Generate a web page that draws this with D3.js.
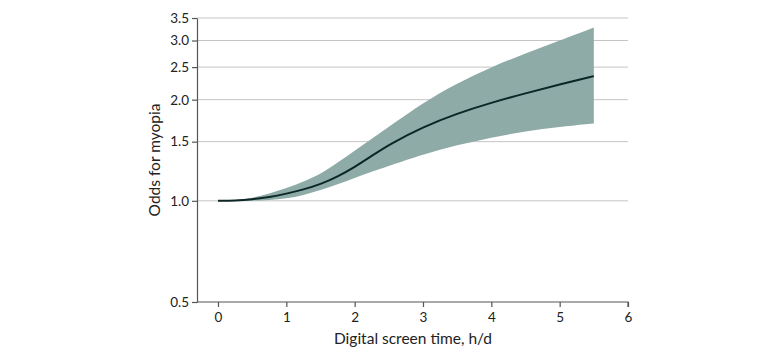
<!DOCTYPE html>
<html>
<head>
<meta charset="utf-8">
<script src="https://cdn.jsdelivr.net/npm/d3@7"></script>
<style>
  body { margin: 0; background: #fff; }
  svg { display: block; }
  text { font-family: Lato, "Open Sans", sans-serif; fill: #222; }
</style>
</head>
<body>
<svg id="chart" width="780" height="357"></svg>
<script>
// Data
const hours = [0, 0.25, 0.5, 0.75, 1.0, 1.25, 1.5, 1.75, 2.0, 2.25, 2.5, 3.0, 3.5, 4.0, 4.5, 5.0, 5.5];
const oddsMean  = [1.00, 1.002, 1.01, 1.025, 1.05, 1.08, 1.12, 1.18, 1.26, 1.36, 1.47, 1.66, 1.82, 1.96, 2.09, 2.22, 2.35];
const oddsUpper = [1.00, 1.004, 1.02, 1.05, 1.09, 1.14, 1.20, 1.30, 1.41, 1.53, 1.66, 1.96, 2.24, 2.50, 2.75, 3.00, 3.28];
const oddsLower = [1.00, 1.000, 1.00, 1.005, 1.015, 1.04, 1.075, 1.12, 1.17, 1.22, 1.27, 1.375, 1.465, 1.545, 1.61, 1.66, 1.70];
const xTicks = [0, 1, 2, 3, 4, 5, 6];
const yTicks = [0.5, 1.0, 1.5, 2.0, 2.5, 3.0, 3.5];

const svg = d3.select("#chart");
const mLeft = 197, mRight = 628, mTop = 18, mBottom = 302;

const x = d3.scaleLinear().domain([-0.307, 6]).range([mLeft, mRight]);
const y = d3.scaleLog().domain([0.5, 3.5]).range([mBottom, mTop]);

// gridlines
svg.append("g").selectAll("line").data(yTicks.filter(d => d > 0.5)).join("line")
  .attr("x1", mLeft).attr("x2", mRight)
  .attr("y1", d => y(d)).attr("y2", d => y(d))
  .attr("stroke", "#c4c4c4").attr("stroke-width", 1);

const pts = hours.map((h, i) => ({h, m: oddsMean[i], u: oddsUpper[i], l: oddsLower[i]}));

svg.append("path").datum(pts)
  .attr("d", d3.area().x(d => x(d.h)).y0(d => y(d.l)).y1(d => y(d.u)).curve(d3.curveBasis))
  .attr("fill", "#8eaba8");

svg.append("path").datum(pts)
  .attr("d", d3.line().x(d => x(d.h)).y(d => y(d.m)).curve(d3.curveBasis))
  .attr("fill", "none").attr("stroke", "#0c2626").attr("stroke-width", 2);

// axes
const xAxis = svg.append("g").attr("transform", `translate(0,${mBottom})`)
  .call(d3.axisBottom(x).tickValues(xTicks).tickFormat(d3.format("d")).tickSize(5).tickSizeOuter(0));
const yAxis = svg.append("g").attr("transform", `translate(${mLeft},0)`)
  .call(d3.axisLeft(y).tickValues(yTicks).tickFormat(d3.format(".1f")).tickSize(5).tickSizeOuter(0));

[xAxis, yAxis].forEach(g => {
  g.select(".domain").attr("stroke", "#555").attr("stroke-width", 1.2);
  g.selectAll(".tick line").attr("stroke", "#555").attr("stroke-width", 1.2);
  g.selectAll(".tick text").attr("font-size", 13.5).attr("fill", "#222")
    .style("font-family", "Lato, 'Open Sans', sans-serif");
});
xAxis.selectAll(".tick text").attr("dy", "0.9em");
xAxis.select(".domain").attr("d", `M${mLeft},0H${mRight}V5`);

svg.append("text")
  .attr("x", 413).attr("y", 344)
  .attr("text-anchor", "middle").attr("font-size", 15.5)
  .text("Digital screen time, h/d");

svg.append("text")
  .attr("transform", `translate(160,${(mTop + mBottom) / 2}) rotate(-90)`)
  .attr("text-anchor", "middle").attr("font-size", 15.5)
  .text("Odds for myopia");
</script>
</body>
</html>
